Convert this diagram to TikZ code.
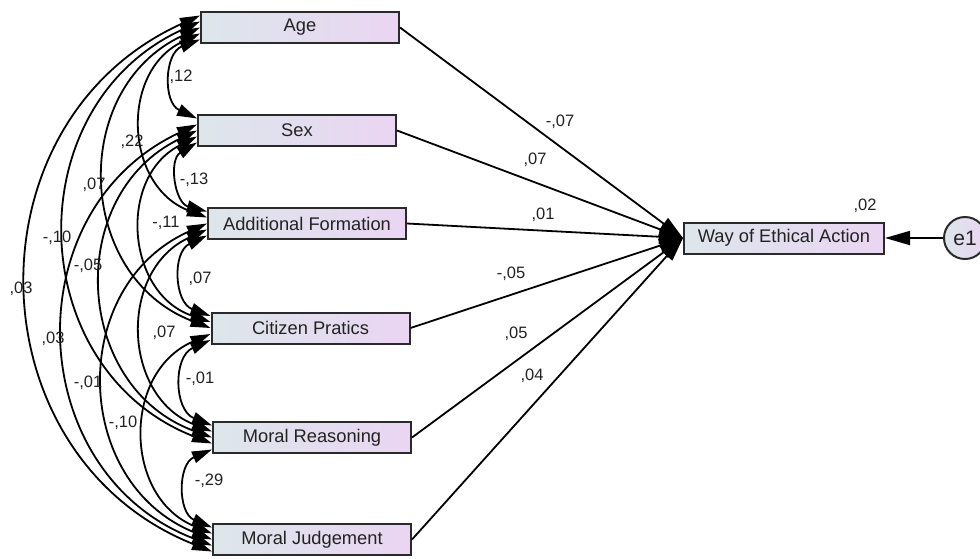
\documentclass[tikz,border=0pt]{standalone}
\usepackage{fontspec}
\setmainfont{Liberation Sans}
\usetikzlibrary{arrows.meta}
\definecolor{boxL}{HTML}{DDE6EB}
\definecolor{boxR}{HTML}{EAD5F2}
\definecolor{txt}{HTML}{222222}
\definecolor{bord}{HTML}{2A2A2A}
\begin{document}
\begin{tikzpicture}[x=1pt,y=-1pt,
  var/.style={draw=bord, line width=2pt, left color=boxL, right color=boxR,
    minimum width=198pt, minimum height=31pt, inner sep=0pt, text=txt,
    font=\fontsize{18.3}{22}\selectfont},
  lat/.style={circle, draw=bord, line width=2pt, left color=boxL, right color=boxR,
    minimum size=42pt, inner sep=0pt, text=txt, font=\fontsize{21}{24}\selectfont},
  reg/.style={line width=1.8pt, -{Triangle[length=24pt,width=14pt]}},
  cov/.style={line width=1.8pt, {Triangle[length=20pt,width=12pt]}-{Triangle[length=20pt,width=12pt]},
    bend right=67, looseness=1.23},
  lab/.style={text=txt, font=\fontsize{16.5}{18}\selectfont, inner sep=0pt}
]
\path[use as bounding box, clip] (0,0) rectangle (980,558);

% observed variables
\node[var] (age) at (300,27.5) {Age};
\node[var] (sex) at (297,130.5) {Sex};
\node[var] (af)  at (307,223.5) {Additional Formation};
\node[var] (cp)  at (310.5,328) {Citizen Pratics};
\node[var] (mr)  at (312,437.5) {Moral Reasoning};
\node[var] (mj)  at (312,539.5) {Moral Judgement};
\node[var, minimum width=200pt] (wea) at (784,238) {Way of Ethical Action};
\node[lat] (e1) at (965,238) {e1};

% attachment points on the left edges
\foreach \p/\s in {mj/12, mr/6, cp/0, af/-6, sex/-12}
  \coordinate (age-\p) at ([yshift=\s pt]age.west);
\foreach \p/\s in {age/12, mj/6, mr/0, cp/-6, af/-12}
  \coordinate (sex-\p) at ([yshift=\s pt]sex.west);
\foreach \p/\s in {sex/12, age/6, mj/0, mr/-6, cp/-12}
  \coordinate (af-\p) at ([yshift=\s pt]af.west);
\foreach \p/\s in {af/12, sex/6, age/0, mj/-6, mr/-12}
  \coordinate (cp-\p) at ([yshift=\s pt]cp.west);
\foreach \p/\s in {cp/12, af/6, sex/0, age/-6, mj/-12}
  \coordinate (mr-\p) at ([yshift=\s pt]mr.west);
\foreach \p/\s in {mr/12, cp/6, af/0, sex/-6, age/-12}
  \coordinate (mj-\p) at ([yshift=\s pt]mj.west);

% covariances
\foreach \a/\b in {age/sex, age/af, age/cp, age/mr, age/mj,
                   sex/af, sex/cp, sex/mr, sex/mj,
                   af/cp, af/mr, af/mj,
                   cp/mr, cp/mj,
                   mr/mj}
  \draw[cov] (\a-\b) to (\b-\a);

% regressions
\foreach \n in {age,sex,af,cp,mr,mj}
  \draw[reg] (\n.east) -- (wea.west);
\draw[line width=1.8pt, -{Triangle[length=25pt,width=14pt]}] (e1) -- (wea);

% covariance labels
\node[lab] (c1)  at (181,77)  {,12};
\node[lab] (c2)  at (132,142) {,22};
\node[lab] (c3)  at (94,185)  {,07};
\node[lab] (c4)  at (57,238)  {-,10};
\node[lab] (c5)  at (21,289)  {,03};
\node[lab] (c6)  at (194,180) {-,13};
\node[lab] (c7)  at (166,223) {-,11};
\node[lab] (c8)  at (88,266)  {-,05};
\node[lab] (c9)  at (53,339)  {,03};
\node[lab] (c10) at (200,279) {,07};
\node[lab] (c11) at (164,333) {,07};
\node[lab] (c12) at (88,383)  {-,01};
\node[lab] (c13) at (200,379) {-,01};
\node[lab] (c14) at (123,423) {-,10};
\node[lab] (c15) at (209,481) {-,29};

% regression labels
\node[lab] (r1) at (560,122) {-,07};
\node[lab] (r2) at (535,160) {,07};
\node[lab] (r3) at (543,215) {,01};
\node[lab] (r4) at (511,274) {-,05};
\node[lab] (r5) at (516,334) {,05};
\node[lab] (r6) at (532,376) {,04};
\node[lab] (r7) at (865,206) {,02};
\end{tikzpicture}
\end{document}
